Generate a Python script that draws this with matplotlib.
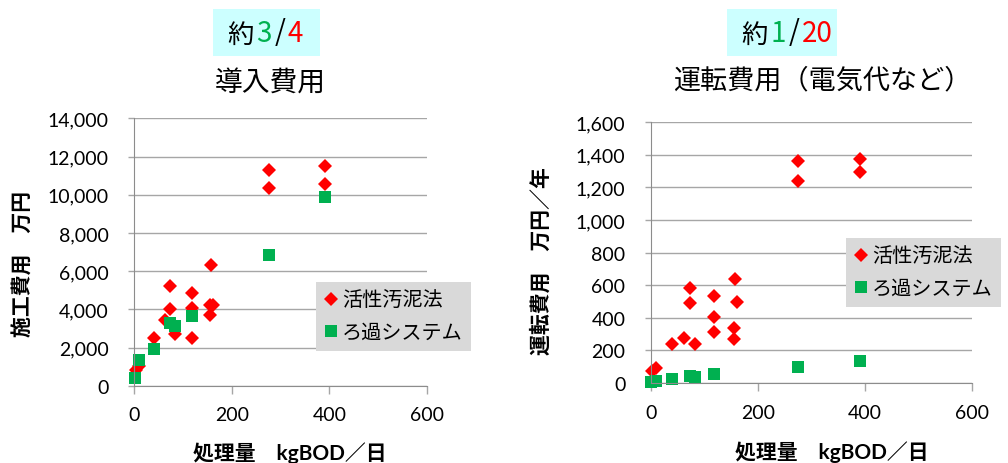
import numpy as np
import matplotlib
matplotlib.use("Agg")
import matplotlib.pyplot as plt
from matplotlib.patches import Rectangle
from matplotlib.lines import Line2D
from matplotlib.text import Annotation
from matplotlib.ticker import FuncFormatter

plt.rcParams['font.family'] = ['Lato', 'Noto Sans CJK JP', 'DejaVu Sans']

# 処理量 kgBOD/日
bod_asp = [3, 10, 40, 62, 73, 73, 83, 118, 118, 118, 155, 155, 157, 161, 276, 276, 390, 390]
bod_filt = [1, 10, 40, 73, 83, 118, 276, 390]

# 導入費用 (万円)
build_asp = [800, 1050, 2480, 3420, 5240, 4020, 2690, 4840, 4050, 2510,
             4220, 3700, 6340, 4220, 11310, 10350, 11490, 10580]
build_filt = [420, 1345, 1900, 3280, 3110, 3630, 6860, 9900]

# 運転費用 (万円/年)
run_asp = [75, 92, 237, 278, 585, 491, 237, 536, 407, 313,
           336, 268, 636, 497, 1360, 1237, 1372, 1296]
run_filt = [6, 14, 25, 45, 39, 55, 96, 133]

labels = ["活性汚泥法", "ろ過システム"]
RED = "#ff0000"
GREEN = "#00b050"

W, H = 1008, 464
fig = plt.figure(figsize=(W / 100, H / 100), dpi=100)


def fx(px):
    return px / W


def fy(py):
    return 1 - py / H


def style(ax, ymax, ystep):
    ax.set_xlim(0, 600)
    ax.set_ylim(0, ymax)
    ax.set_xticks(range(0, 601, 200))
    ax.set_yticks(np.arange(0, ymax + 1, ystep))
    ax.yaxis.set_major_formatter(FuncFormatter(lambda v, p: f"{v:,.0f}"))
    ax.set_axisbelow(True)
    ax.grid(axis='y', color='#a6a6a6', lw=1)
    for s in ['top', 'right']:
        ax.spines[s].set_visible(False)
    for s in ['left', 'bottom']:
        ax.spines[s].set_color('#8c8c8c')
    ax.tick_params(axis='y', length=4.3, width=1, color='#a6a6a6', pad=14, labelsize=14)
    ax.tick_params(axis='x', length=5.8, width=1, color='#a6a6a6', pad=9, labelsize=14)


def scatter(ax, y_asp, y_filt):
    ax.plot(bod_asp, y_asp, ls='none', marker='D', ms=7.2, color=RED, mew=0, clip_on=False)
    ax.plot(bod_filt, y_filt, ls='none', marker='s', ms=8.6, color=GREEN, mew=0, clip_on=False)


def ratio(x0, y0, a, b):
    # 約 a/b  with the numerator and denominator coloured
    parts = [("約", 'black'), (a, GREEN), ("/", 'black'), (b, RED)]
    prev = fig.text(fx(x0), fy(y0), parts[0][0], color=parts[0][1],
                    fontsize=19, va='center', ha='left', family='Noto Sans CJK JP', zorder=5)
    for s, c in parts[1:]:
        prev = fig.add_artist(Annotation(s, xy=(1, 0), xycoords=prev,
                                         xytext=(2, 0), textcoords='offset points',
                                         color=c, fontsize=20,
                                         va='bottom', ha='left', family='Noto Sans CJK JP',
                                         zorder=5))


def legend(x0, y0):
    handles = [Line2D([], [], ls='none', marker='D', ms=7.2, color=RED, mew=0),
               Line2D([], [], ls='none', marker='s', ms=8.6, color=GREEN, mew=0)]
    fig.legend(handles, labels, loc='upper left',
               bbox_to_anchor=(fx(x0), fy(y0)), bbox_transform=fig.transFigure,
               borderaxespad=0, frameon=True, fancybox=False, framealpha=1,
               facecolor='#d9d9d9', edgecolor='none',
               handlelength=0.7, handletextpad=0.2, labelspacing=0.55,
               borderpad=0.4, prop={'family': 'Noto Sans CJK JP', 'size': 14.5})


# 導入費用
ax1 = fig.add_axes([fx(134.3), fy(386.7), (427 - 134.3) / W, (386.7 - 119.3) / H])
style(ax1, 14000, 2000)
scatter(ax1, build_asp, build_filt)
ax1.set_ylabel("施工費用　万円", fontsize=15, fontweight='bold', family='Noto Sans CJK JP')
ax1.yaxis.set_label_coords(-0.380, 0.459)
ax1.yaxis.label.set_va('center')
ax1.set_xlabel("処理量　kgBOD／日", fontsize=15, fontweight='bold')
ax1.xaxis.set_label_coords(0.532, -0.248)
ax1.xaxis.label.set_va('center')

# 運転費用
ax2 = fig.add_axes([fx(650.7), fy(384), (972 - 650.7) / W, (384 - 123.2) / H])
style(ax2, 1600, 200)
scatter(ax2, run_asp, run_filt)
ax2.set_ylabel("運転費用　万円／年", fontsize=15, fontweight='bold', family='Noto Sans CJK JP')
ax2.yaxis.set_label_coords(-0.341, 0.472)
ax2.yaxis.label.set_va('center')
ax2.set_xlabel("処理量　kgBOD／日", fontsize=15, fontweight='bold')
ax2.xaxis.set_label_coords(0.563, -0.261)
ax2.xaxis.label.set_va('center')

# titles
fig.text(fx(270), fy(83), "導入費用", ha='center', va='center', fontsize=20,
         family='Noto Sans CJK JP')
fig.text(fx(822), fy(81), "運転費用（電気代など）", ha='center', va='center', fontsize=19.5,
         family='Noto Sans CJK JP')

# ratio boxes
fig.add_artist(Rectangle((fx(213), fy(57)), 107 / W, 47 / H, transform=fig.transFigure,
                         facecolor='#ccffff', edgecolor='none', zorder=-1))
fig.add_artist(Rectangle((fx(727), fy(57)), 110 / W, 47 / H, transform=fig.transFigure,
                         facecolor='#ccffff', edgecolor='none', zorder=-1))
ratio(227, 35, "3", "4")
ratio(741, 35, "1", "20")

legend(316, 283)
legend(846, 239)

fig.savefig("out.png", dpi=100)
